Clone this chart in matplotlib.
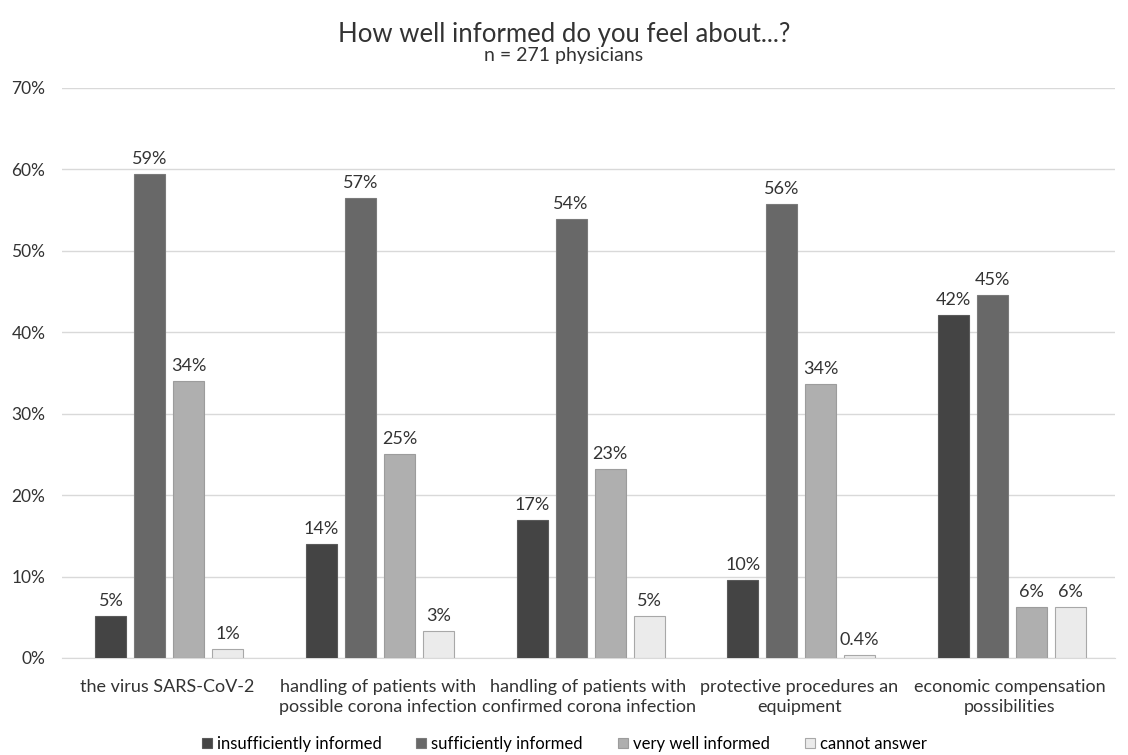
import numpy as np
import matplotlib
matplotlib.use("Agg")
from matplotlib import pyplot as plt
from matplotlib.ticker import PercentFormatter

categories = [
    "the virus SARS-CoV-2",
    "handling of patients with\npossible corona infection",
    "handling of patients with\nconfirmed corona infection",
    "protective procedures an\nequipment",
    "economic compensation\npossibilities",
]
series_names = ["insufficiently informed", "sufficiently informed",
                "very well informed", "cannot answer"]
insufficient = [5.2, 14.0, 17.0, 9.6, 42.1]
sufficient = [59.4, 56.5, 53.9, 55.7, 44.6]
very_well = [34.0, 25.1, 23.2, 33.6, 6.3]
cannot = [1.1, 3.3, 5.2, 0.4, 6.3]
labels = [
    ["5%", "14%", "17%", "10%", "42%"],
    ["59%", "57%", "54%", "56%", "45%"],
    ["34%", "25%", "23%", "34%", "6%"],
    ["1%", "3%", "5%", "0.4%", "6%"],
]

colors = ["#444444", "#686868", "#afafaf", "#ebebeb"]
edges = ["#5a5a5a", "#7a7a7a", "#9c9c9c", "#a8a8a8"]

plt.rcParams['font.family'] = ['Lato', 'DejaVu Sans']


def main():
    fig = plt.figure(figsize=(11.28, 7.55), dpi=100)
    ax = fig.add_axes([62 / 1128, 97 / 755, 1053 / 1128, 570 / 755])

    x = np.arange(len(categories))
    width = 0.147
    step = 0.185
    all_series = [insufficient, sufficient, very_well, cannot]
    for i, vals in enumerate(all_series):
        pos = x + (i - 1.5) * step + 0.01
        bars = ax.bar(pos, vals, width, color=colors[i], edgecolor=edges[i],
                      linewidth=0.8, label=series_names[i], zorder=3)
        for b, lab in zip(bars, labels[i]):
            ax.annotate(lab, (b.get_x() + b.get_width() / 2, b.get_height()),
                        xytext=(0, 5), textcoords="offset points",
                        ha="center", va="bottom", fontsize=13, color="#333333")

    ax.set_ylim(0, 70)
    ax.set_xlim(-0.5, len(categories) - 0.5)
    ax.set_yticks(np.arange(0, 71, 10))
    ax.yaxis.set_major_formatter(PercentFormatter(decimals=0))
    ax.grid(axis="y", color="#d9d9d9", linewidth=1, zorder=0)
    for s in ["top", "right", "left"]:
        ax.spines[s].set_visible(False)
    ax.spines["bottom"].set_color("#d9d9d9")
    ax.tick_params(axis="both", length=0, colors="#333333")
    ax.tick_params(axis="y", pad=12, labelsize=12.5)
    ax.tick_params(axis="x", pad=15, labelsize=13)
    ax.set_xticks(x)
    ax.set_xticklabels(categories, linespacing=1.3)

    fig.text(0.5, 0.954, "How well informed do you feel about...?",
             ha="center", va="center", fontsize=18.5, color="#333333")
    fig.text(0.5, 0.926, "n = 271 physicians", ha="center", va="center",
             fontsize=14, color="#333333")

    fig.legend(loc="lower center", bbox_to_anchor=(0.5, -0.016), ncol=4,
               frameon=False, fontsize=12, handlelength=0.6, handleheight=0.6,
               columnspacing=2.1, handletextpad=0.3)

    fig.savefig("out.png", dpi=100)


if __name__ == "__main__":
    main()
